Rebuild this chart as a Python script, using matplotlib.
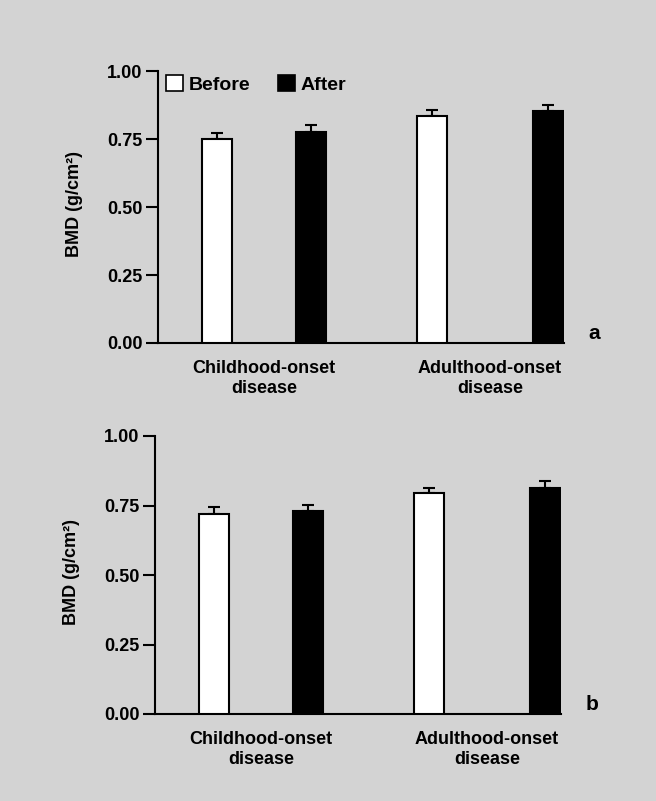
import matplotlib
matplotlib.use("Agg")
import matplotlib.pyplot as plt
from matplotlib.patches import Patch

plt.rcParams['font.family'] = ['Liberation Sans', 'DejaVu Sans']

categories = ["Childhood-onset\ndisease", "Adulthood-onset\ndisease"]
series = ["Before", "After"]
# panel a
a_before = [0.750, 0.835]
a_before_err = [0.022, 0.022]
a_after = [0.776, 0.853]
a_after_err = [0.025, 0.022]
# panel b
b_before = [0.720, 0.795]
b_before_err = [0.025, 0.017]
b_after = [0.730, 0.813]
b_after_err = [0.022, 0.025]
yticks = [0.00, 0.25, 0.50, 0.75, 1.00]
ytick_labels = ["0.00", "0.25", "0.50", "0.75", "1.00"]
panel_labels = ["a", "b"]

# layout (x in pixel-like units relative to y axis)
before_x = [59, 274]
after_x = [153, 390]
cat_x = [106, 332]
bar_w = 30
x_right = 406

BG = '#d3d3d3'
W, H = 656, 801
fig = plt.figure(figsize=(W / 100, H / 100), dpi=100, facecolor=BG)


def make_panel(rect, before, berr, after, aerr, label, legend):
    ax = fig.add_axes(rect)
    ax.set_facecolor('none')
    ax.bar(before_x, before, width=bar_w, color='white', edgecolor='black', linewidth=1.5, zorder=3)
    ax.bar(after_x, after, width=bar_w, color='black', edgecolor='black', linewidth=1.5, zorder=3)
    ax.errorbar(before_x, before, yerr=[[0] * len(berr), berr], fmt='none', ecolor='black',
                elinewidth=1.5, capsize=4.5, capthick=1.5, zorder=2)
    ax.errorbar(after_x, after, yerr=[[0] * len(aerr), aerr], fmt='none', ecolor='black',
                elinewidth=1.5, capsize=4.5, capthick=1.5, zorder=2)
    ax.set_xlim(0, x_right)
    ax.set_ylim(0, 1.0)
    for s in ['top', 'right']:
        ax.spines[s].set_visible(False)
    for s in ['left', 'bottom']:
        ax.spines[s].set_linewidth(1.5)
    ax.set_yticks(yticks)
    ax.set_yticklabels(ytick_labels, fontsize=13, fontweight='bold')
    ax.tick_params(axis='y', length=9, width=1.5, pad=2)
    ax.set_xticks(cat_x)
    ax.set_xticklabels(categories, fontsize=13, fontweight='bold', linespacing=1.25)
    ax.tick_params(axis='x', length=0, pad=12)
    ax.set_ylabel("BMD (g/cm²)", fontsize=13, fontweight='bold')
    ax.yaxis.set_label_coords(-0.185, 0.51)
    ax.text(1.06, 0.0, label, transform=ax.transAxes, fontsize=15, fontweight='bold',
            ha='left', va='bottom')
    if legend:
        handles = [Patch(facecolor='white', edgecolor='black', linewidth=1.2),
                   Patch(facecolor='black', edgecolor='black', linewidth=1.2)]
        ax.legend(handles, series, loc='upper left', bbox_to_anchor=(0.02, 0.985),
                  ncol=2, frameon=False, prop={'size': 14, 'weight': 'bold'},
                  handlelength=0.85, handleheight=0.85,
                  handletextpad=0.3, columnspacing=1.45, borderpad=0, borderaxespad=0)
    return ax


ax_a = make_panel([158 / W, 1 - 343 / H, 406 / W, 272 / H], a_before, a_before_err,
                  a_after, a_after_err, panel_labels[0], True)
ax_b = make_panel([155 / W, 1 - 714 / H, 406 / W, 278 / H], b_before, b_before_err,
                  b_after, b_after_err, panel_labels[1], False)

fig.savefig("out.png", dpi=100, facecolor=BG)
